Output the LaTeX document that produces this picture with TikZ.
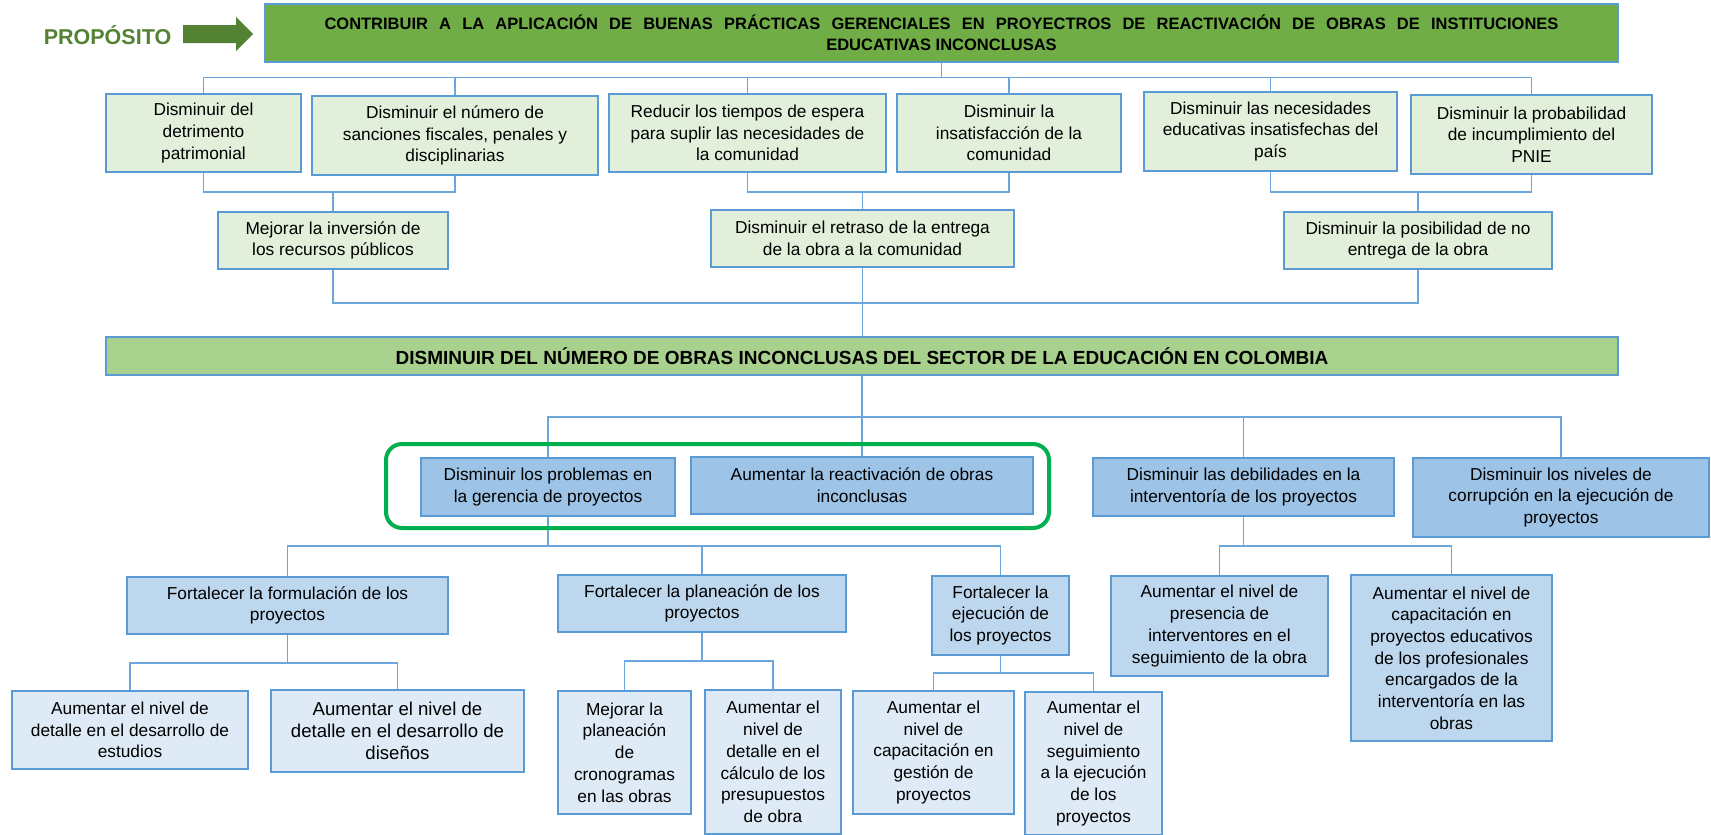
\documentclass[tikz,border=0pt]{standalone}
\usepackage{fontspec}
\setmainfont{Liberation Sans}
\usetikzlibrary{calc}
\definecolor{bordc}{HTML}{5B9BD5}
\definecolor{connc}{HTML}{6CA6DA}
\definecolor{topg}{HTML}{70AD47}
\definecolor{maing}{HTML}{A9D18E}
\definecolor{lg}{HTML}{E2EFDA}
\definecolor{bl1}{HTML}{9DC3E6}
\definecolor{bl2}{HTML}{BDD7EE}
\definecolor{bl3}{HTML}{DEEBF7}
\definecolor{propg}{HTML}{548235}
\definecolor{hlg}{HTML}{00B050}
\newcommand\fsn{\fontsize{17.3}{21.7}\selectfont}
\newcommand\fsl{\fontsize{18.6}{22}\selectfont}
\newcommand\fst{\fontsize{16.5}{21}\selectfont\bfseries}
\newcommand\fsm{\fontsize{19}{22}\selectfont\bfseries}
\newcommand\fsp{\fontsize{21.5}{24}\selectfont\bfseries}
\tikzset{
  box/.style={draw=bordc, line width=1.3pt, align=center, inner sep=0pt, font=\fsn, anchor=center},
  lvtwo/.style={box, fill=lg},
  lvd/.style={box, fill=bl1},
  lve/.style={box, fill=bl2},
  lvf/.style={box, fill=bl3},
  conn/.style={draw=connc, line width=1.4pt},
}
\begin{document}
\begin{tikzpicture}[x=1pt,y=-1pt]
\useasboundingbox (0,0) rectangle (1711,835);
\fill[white] (0,0) rectangle (1711,835);

% proposito
\node[font=\fsp, text=propg, inner sep=0pt] (prop) at (107.5,35) {PROPÓSITO};
\fill[propg] (183,25) -- (236,25) -- (236,17) -- (253,34) -- (236,51) -- (236,43) -- (183,43) -- cycle;

% top box
\node[box, fill=topg, font=\fst, minimum width=1353, minimum height=58] (top) at (941.5,33)
  {\makebox[1234pt][s]{CONTRIBUIR A LA APLICACIÓN DE BUENAS PRÁCTICAS GERENCIALES EN PROYECTROS DE REACTIVACIÓN DE OBRAS DE INSTITUCIONES}\\EDUCATIVAS INCONCLUSAS};

% level 2
\node[lvtwo, minimum width=195, minimum height=78] (b1) at (203.5,133) {Disminuir del\\detrimento\\patrimonial};
\node[lvtwo, minimum width=286, minimum height=79] (b2) at (455,135.5) {Disminuir el número de\\sanciones fiscales, penales y\\disciplinarias};
\node[lvtwo, minimum width=277, minimum height=78] (b3) at (747.5,133) {Reducir los tiempos de espera\\para suplir las necesidades de\\la comunidad};
\node[lvtwo, minimum width=224, minimum height=78] (b4) at (1009,133) {Disminuir la\\insatisfacción de la\\comunidad};
\node[lvtwo, minimum width=253, minimum height=79] (b5) at (1270.5,131.5) {Disminuir las necesidades\\educativas insatisfechas del\\país};
\node[lvtwo, minimum width=241, minimum height=79] (b6) at (1531.5,134.5) {Disminuir la probabilidad\\de incumplimiento del\\PNIE};

% level 3
\node[lvtwo, minimum width=230, minimum height=57] (c1) at (333,240.5) {Mejorar la inversión de\\los recursos públicos};
\node[lvtwo, minimum width=303, minimum height=57] (c2) at (862.5,238.5) {Disminuir el retraso de la entrega\\de la obra a la comunidad};
\node[lvtwo, minimum width=268, minimum height=57] (c3) at (1418,240.5) {Disminuir la posibilidad de no\\entrega de la obra};

% main
\node[box, fill=maing, font=\fsm, minimum width=1512, minimum height=38] (main) at (862,356) {DISMINUIR DEL NÚMERO DE OBRAS INCONCLUSAS DEL SECTOR DE LA EDUCACIÓN EN COLOMBIA};

% level D
\node[lvd, minimum width=254, minimum height=58] (d1) at (548,487) {Disminuir los problemas en\\la gerencia de proyectos};
\node[lvd, minimum width=342, minimum height=57] (d2) at (862,485.5) {Aumentar la reactivación de obras\\inconclusas};
\node[lvd, minimum width=301, minimum height=58] (d3) at (1243.5,487) {Disminuir las debilidades en la\\interventoría de los proyectos};
\node[lvd, minimum width=296, minimum height=79] (d4) at (1561,497.5) {Disminuir los niveles de\\corrupción en la ejecución de\\proyectos};

% level E
\node[lve, minimum width=321, minimum height=57] (e1) at (287.5,605.5) {Fortalecer la formulación de los\\proyectos};
\node[lve, minimum width=288, minimum height=57] (e2) at (702,603.5) {Fortalecer la planeación de los\\proyectos};
\node[lve, minimum width=137, minimum height=79] (e3) at (1000.5,615.5) {Fortalecer la\\ejecución de\\los proyectos};
\node[lve, minimum width=217, minimum height=100] (e4) at (1219.5,626) {Aumentar el nivel de\\presencia de\\interventores en el\\seguimiento de la obra};
\node[lve, minimum width=201, minimum height=166] (e5) at (1451.5,658) {Aumentar el nivel de\\capacitación en\\proyectos educativos\\de los profesionales\\encargados de la\\interventoría en las\\obras};

% level F
\node[lvf, minimum width=236, minimum height=78] (f1) at (130,730) {Aumentar el nivel de\\detalle en el desarrollo de\\estudios};
\node[lvf, font=\fsl, minimum width=253, minimum height=82] (f2) at (397.5,731) {Aumentar el nivel de\\detalle en el desarrollo de\\diseños};
\node[lvf, minimum width=133, minimum height=123] (f3) at (624.5,752.5) {Mejorar la\\planeación\\de\\cronogramas\\en las obras};
\node[lvf, minimum width=136, minimum height=144] (f4) at (773,762) {Aumentar el\\nivel de\\detalle en el\\cálculo de los\\presupuestos\\de obra};
\node[lvf, minimum width=161, minimum height=123] (f5) at (933.5,752.5) {Aumentar el\\nivel de\\capacitación en\\gestión de\\proyectos};
\node[lvf, minimum width=137, minimum height=143] (f6) at (1093.5,763.5) {Aumentar el\\nivel de\\seguimiento\\a la ejecución\\de los\\proyectos};

% bus coordinates
\coordinate (bus1) at (0,77.5);
\coordinate (busA) at (0,192);
\coordinate (busB) at (0,303);
\coordinate (busC) at (0,417);
\coordinate (busD) at (0,546);
\coordinate (busE) at (0,663);
\coordinate (busF) at (0,661);
\coordinate (busG) at (0,673);

% connectors
\draw[conn] (top.south) -- (top.south |- bus1);
\draw[conn] (b1.north) |- (b6.north |- bus1) -- (b6.north);
\foreach \n in {b2,b3,b4,b5} \draw[conn] (\n.north) -- (\n.north |- bus1);

\draw[conn] (b1.south) |- (b2.south |- busA) -- (b2.south);
\draw[conn] (c1.north) -- (c1.north |- busA);
\draw[conn] (b3.south) |- (b4.south |- busA) -- (b4.south);
\draw[conn] (c2.north) -- (c2.north |- busA);
\draw[conn] (b5.south) |- (b6.south |- busA) -- (b6.south);
\draw[conn] (c3.north) -- (c3.north |- busA);

\draw[conn] (c1.south) |- (c3.south |- busB) -- (c3.south);
\draw[conn] (c2.south) -- (c2.south |- main.north);

\draw[conn] (main.south) -- (main.south |- busC);
\draw[conn] (d1.north) |- (d4.north |- busC) -- (d4.north);
\foreach \n in {d2,d3} \draw[conn] (\n.north) -- (\n.north |- busC);

\draw[conn] (d1.south) -- (d1.south |- busD);
\draw[conn] (e1.north) |- (e3.north |- busD) -- (e3.north);
\draw[conn] (e2.north) -- (e2.north |- busD);
\draw[conn] (d3.south) -- (d3.south |- busD);
\draw[conn] (e4.north) |- (e5.north |- busD) -- (e5.north);

\draw[conn] (e1.south) -- (e1.south |- busE);
\draw[conn] (f1.north) |- (f2.north |- busE) -- (f2.north);
\draw[conn] (e2.south) -- (e2.south |- busF);
\draw[conn] (f3.north) |- (f4.north |- busF) -- (f4.north);
\draw[conn] (e3.south) -- (e3.south |- busG);
\draw[conn] (f5.north) |- (f6.north |- busG) -- (f6.north);

% highlight
\node[draw=hlg, line width=4pt, rounded corners=16pt, minimum width=663, minimum height=84, inner sep=0pt] (hl) at (717.5,486) {};
\end{tikzpicture}
\end{document}
